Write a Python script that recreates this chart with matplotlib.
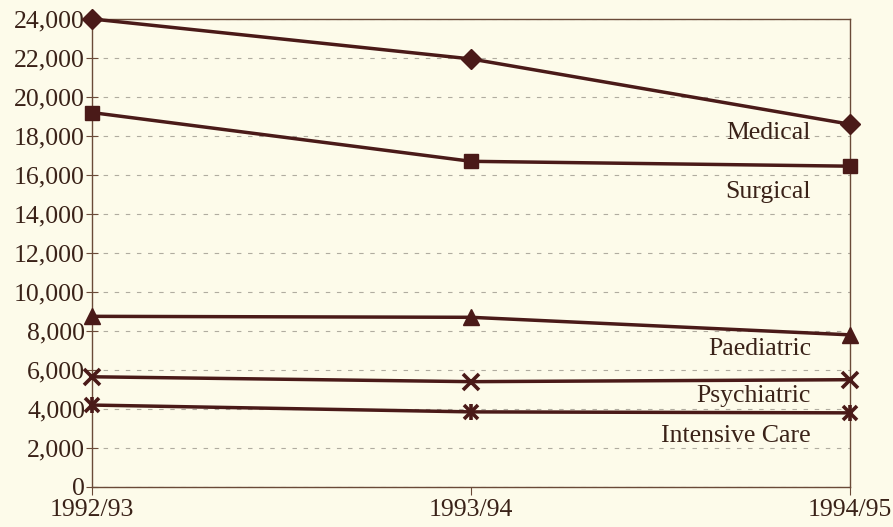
import matplotlib
matplotlib.use("Agg")
from matplotlib import pyplot as plt
from matplotlib.ticker import FuncFormatter

years = ["1992/93", "1993/94", "1994/95"]
medical = [24000, 21950, 18600]
surgical = [19200, 16700, 16450]
paediatric = [8750, 8700, 7800]
psychiatric = [5650, 5400, 5500]
intensive = [4200, 3850, 3800]

bg = "#fdfbea"
ink = "#4a1a18"
txt = "#3a2218"

plt.rcParams["font.family"] = ["Liberation Serif", "DejaVu Serif"]

fig = plt.figure(figsize=(8.93, 5.27), dpi=100, facecolor=bg)
ax = fig.add_axes([0.103, 0.076, 0.849, 0.888], facecolor=bg)

x = range(len(years))
kw = dict(color=ink, lw=2.5, clip_on=False, zorder=3)
ax.plot(x, medical, marker="D", ms=10.5, **kw)
ax.plot(x, surgical, marker="s", ms=10.5, **kw)
ax.plot(x, paediatric, marker="^", ms=12, **kw)
ax.plot(x, psychiatric, marker="x", ms=11, mew=2.6, **kw)
ax.plot(x, intensive, marker="x", ms=10, mew=2.6, **kw)
ax.plot(x, intensive, ls="none", marker="|", ms=12, mew=2.6, color=ink, clip_on=False, zorder=3)

# series names sit just left of the last point
names = ["Medical", "Surgical", "Paediatric", "Psychiatric", "Intensive Care"]
ypos = [18150, 15150, 7100, 4650, 2600]
for name, y in zip(names, ypos):
    ax.text(1.897, y, name, ha="right", va="center", fontsize=18.5, color=txt, zorder=4)

ax.set_xlim(0, 2)
ax.set_ylim(0, 24000)
ax.set_yticks(range(0, 24001, 2000))
ax.yaxis.set_major_formatter(FuncFormatter(lambda v, p: f"{int(v):,}"))
ax.set_xticks(list(x))
ax.set_xticklabels(years)
ax.grid(axis="y", ls=(0, (4, 6)), color="#b0aca0", lw=0.8)
ax.set_axisbelow(True)

for s in ax.spines.values():
    s.set_color("#6a4a38")
    s.set_linewidth(1.0)
ax.tick_params(axis="y", direction="inout", length=8, colors="#6a4a38",
               labelcolor=txt, labelsize=18.5, pad=1)
ax.tick_params(axis="x", direction="out", length=6, colors="#6a4a38",
               labelcolor=txt, labelsize=18.5, pad=3)

fig.savefig("out.png", dpi=100, facecolor=bg)
